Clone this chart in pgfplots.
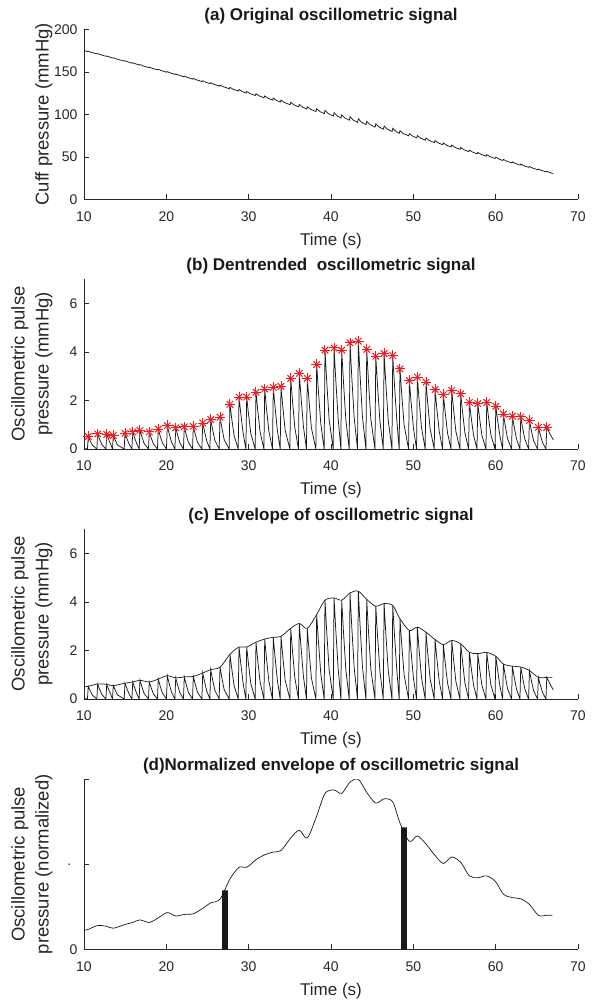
\documentclass[border=0pt]{standalone}
\usepackage{fontspec}
\setmainfont{Liberation Sans}
\usepackage{pgfplots}
\usepackage{pgfplotstable}
\pgfplotsset{compat=1.18}
\definecolor{axgray}{RGB}{38,38,38}
\definecolor{mred}{RGB}{240,25,30}

% peak times (s), peak height (mmHg), normalised peak
\pgfplotstableread{
t p n
10.52 0.52 0.117
11.66 0.62 0.140
12.76 0.60 0.135
13.56 0.55 0.124
14.98 0.65 0.146
15.92 0.70 0.158
16.80 0.77 0.173
17.93 0.70 0.158
19.02 0.82 0.185
20.12 0.96 0.216
21.14 0.87 0.196
22.18 0.91 0.205
23.28 0.93 0.209
24.42 1.07 0.241
25.39 1.21 0.273
26.52 1.31 0.295
27.73 1.84 0.414
28.83 2.14 0.482
29.76 2.14 0.482
30.89 2.34 0.527
31.95 2.47 0.556
32.99 2.54 0.572
33.93 2.58 0.581
35.11 2.91 0.655
36.15 3.11 0.700
37.12 2.91 0.655
38.26 3.48 0.784
39.27 4.07 0.917
40.37 4.16 0.937
41.30 4.07 0.917
42.31 4.37 0.984
43.32 4.44 1.000
44.34 4.10 0.923
45.44 3.82 0.860
46.45 3.93 0.885
47.50 3.85 0.867
48.38 3.30 0.743
49.52 2.82 0.635
50.49 2.96 0.667
51.54 2.75 0.619
52.64 2.45 0.552
53.65 2.24 0.505
54.67 2.41 0.543
55.76 2.27 0.511
56.81 1.92 0.432
57.83 1.87 0.421
58.92 1.92 0.432
60.02 1.76 0.396
60.94 1.44 0.324
62.03 1.35 0.304
63.05 1.32 0.297
64.10 1.17 0.264
65.19 0.89 0.200
66.21 0.89 0.200
}\peaks

\pgfplotstableread{
t p n
10.00 0.50 0.113
10.52 0.52 0.117
11.66 0.62 0.140
12.76 0.60 0.135
13.56 0.55 0.124
14.98 0.65 0.146
15.92 0.70 0.158
16.80 0.77 0.173
17.93 0.70 0.158
19.02 0.82 0.185
20.12 0.96 0.216
21.14 0.87 0.196
22.18 0.91 0.205
23.28 0.93 0.209
24.42 1.07 0.241
25.39 1.21 0.273
26.52 1.31 0.295
27.73 1.84 0.414
28.83 2.14 0.482
29.76 2.14 0.482
30.89 2.34 0.527
31.95 2.47 0.556
32.99 2.54 0.572
33.93 2.58 0.581
35.11 2.91 0.655
36.15 3.11 0.700
37.12 2.91 0.655
38.26 3.48 0.784
39.27 4.07 0.917
40.37 4.16 0.937
41.30 4.07 0.917
42.31 4.37 0.984
43.32 4.44 1.000
44.34 4.10 0.923
45.44 3.82 0.860
46.45 3.93 0.885
47.50 3.85 0.867
48.38 3.30 0.743
49.52 2.82 0.635
50.49 2.96 0.667
51.54 2.75 0.619
52.64 2.45 0.552
53.65 2.24 0.505
54.67 2.41 0.543
55.76 2.27 0.511
56.81 1.92 0.432
57.83 1.87 0.421
58.92 1.92 0.432
60.02 1.76 0.396
60.94 1.44 0.324
62.03 1.35 0.304
63.05 1.32 0.297
64.10 1.17 0.264
65.19 0.89 0.200
66.21 0.89 0.200
66.90 0.89 0.200
}\envelope

% detrended pulse train (one pulse per line)
\pgfplotstableread[row sep=\\]{
t p\\
10.00 0.02\\
10.42 0\\ 10.52 0.52\\ 10.72 0.36\\ 11.02 0.16\\
11.56 0\\ 11.66 0.62\\ 11.86 0.43\\ 12.16 0.19\\
12.66 0\\ 12.76 0.60\\ 12.96 0.42\\ 13.26 0.18\\
13.46 0\\ 13.56 0.55\\ 13.76 0.39\\ 14.06 0.17\\
14.88 0\\ 14.98 0.65\\ 15.18 0.46\\ 15.48 0.20\\
15.82 0\\ 15.92 0.70\\ 16.12 0.49\\ 16.42 0.21\\
16.70 0\\ 16.80 0.77\\ 17.00 0.54\\ 17.30 0.23\\
17.83 0\\ 17.93 0.70\\ 18.13 0.49\\ 18.43 0.21\\
18.92 0\\ 19.02 0.82\\ 19.22 0.57\\ 19.52 0.25\\
20.02 0\\ 20.12 0.96\\ 20.32 0.67\\ 20.62 0.29\\
21.04 0\\ 21.14 0.87\\ 21.34 0.61\\ 21.64 0.26\\
22.08 0\\ 22.18 0.91\\ 22.38 0.64\\ 22.68 0.27\\
23.18 0\\ 23.28 0.93\\ 23.48 0.65\\ 23.78 0.28\\
24.32 0\\ 24.42 1.07\\ 24.62 0.75\\ 24.92 0.32\\
25.29 0\\ 25.39 1.21\\ 25.59 0.85\\ 25.89 0.36\\
26.42 0\\ 26.52 1.31\\ 26.72 0.92\\ 27.02 0.39\\
27.63 0\\ 27.73 1.84\\ 27.93 1.29\\ 28.23 0.55\\
28.73 0\\ 28.83 2.14\\ 29.03 1.50\\ 29.33 0.64\\
29.66 0\\ 29.76 2.14\\ 29.96 1.50\\ 30.26 0.64\\
30.79 0\\ 30.89 2.34\\ 31.09 1.64\\ 31.39 0.70\\
31.85 0\\ 31.95 2.47\\ 32.15 1.73\\ 32.45 0.74\\
32.89 0\\ 32.99 2.54\\ 33.19 1.78\\ 33.49 0.76\\
33.83 0\\ 33.93 2.58\\ 34.13 1.81\\ 34.43 0.77\\
35.01 0\\ 35.11 2.91\\ 35.31 2.04\\ 35.61 0.87\\
36.05 0\\ 36.15 3.11\\ 36.35 2.18\\ 36.65 0.93\\
37.02 0\\ 37.12 2.91\\ 37.32 2.04\\ 37.62 0.87\\
38.16 0\\ 38.26 3.48\\ 38.46 2.44\\ 38.76 1.04\\
39.17 0\\ 39.27 4.07\\ 39.47 2.85\\ 39.77 1.22\\
40.27 0\\ 40.37 4.16\\ 40.57 2.91\\ 40.87 1.25\\
41.20 0\\ 41.30 4.07\\ 41.50 2.85\\ 41.80 1.22\\
42.21 0\\ 42.31 4.37\\ 42.51 3.06\\ 42.81 1.31\\
43.22 0\\ 43.32 4.44\\ 43.52 3.11\\ 43.82 1.33\\
44.24 0\\ 44.34 4.10\\ 44.54 2.87\\ 44.84 1.23\\
45.34 0\\ 45.44 3.82\\ 45.64 2.67\\ 45.94 1.15\\
46.35 0\\ 46.45 3.93\\ 46.65 2.75\\ 46.95 1.18\\
47.40 0\\ 47.50 3.85\\ 47.70 2.70\\ 48.00 1.16\\
48.28 0\\ 48.38 3.30\\ 48.58 2.31\\ 48.88 0.99\\
49.42 0\\ 49.52 2.82\\ 49.72 1.97\\ 50.02 0.85\\
50.39 0\\ 50.49 2.96\\ 50.69 2.07\\ 50.99 0.89\\
51.44 0\\ 51.54 2.75\\ 51.74 1.93\\ 52.04 0.83\\
52.54 0\\ 52.64 2.45\\ 52.84 1.72\\ 53.14 0.74\\
53.55 0\\ 53.65 2.24\\ 53.85 1.57\\ 54.15 0.67\\
54.57 0\\ 54.67 2.41\\ 54.87 1.69\\ 55.17 0.72\\
55.66 0\\ 55.76 2.27\\ 55.96 1.59\\ 56.26 0.68\\
56.71 0\\ 56.81 1.92\\ 57.01 1.34\\ 57.31 0.58\\
57.73 0\\ 57.83 1.87\\ 58.03 1.31\\ 58.33 0.56\\
58.82 0\\ 58.92 1.92\\ 59.12 1.34\\ 59.42 0.58\\
59.92 0\\ 60.02 1.76\\ 60.22 1.23\\ 60.52 0.53\\
60.84 0\\ 60.94 1.44\\ 61.14 1.01\\ 61.44 0.43\\
61.93 0\\ 62.03 1.35\\ 62.23 0.95\\ 62.53 0.41\\
62.95 0\\ 63.05 1.32\\ 63.25 0.92\\ 63.55 0.40\\
64.00 0\\ 64.10 1.17\\ 64.30 0.82\\ 64.60 0.35\\
65.09 0\\ 65.19 0.89\\ 65.39 0.62\\ 65.69 0.27\\
66.11 0\\ 66.21 0.89\\ 66.60 0.62\\ 67.00 0.38\\
}\pulse

% raw cuff pressure (trough, peak, decay for each beat)
\pgfplotstableread[row sep=\\]{
t c\\
10.00 175.0\\
10.44 173.9\\ 10.52 174.2\\ 10.92 172.8\\
11.58 171.0\\ 11.66 171.4\\ 12.06 170.0\\
12.68 168.2\\ 12.76 168.6\\ 13.16 167.2\\
13.48 166.1\\ 13.56 166.5\\ 13.96 165.1\\
14.90 162.5\\ 14.98 163.0\\ 15.38 161.5\\
15.84 160.1\\ 15.92 160.6\\ 16.32 159.2\\
16.72 157.9\\ 16.80 158.5\\ 17.20 156.9\\
17.85 155.0\\ 17.93 155.5\\ 18.33 154.0\\
18.94 152.3\\ 19.02 152.9\\ 19.42 151.3\\
20.04 149.5\\ 20.12 150.2\\ 20.52 148.5\\
21.06 146.9\\ 21.14 147.5\\ 21.54 145.9\\
22.10 144.2\\ 22.18 144.9\\ 22.58 143.3\\
23.20 141.4\\ 23.28 142.2\\ 23.68 140.5\\
24.34 138.5\\ 24.42 139.4\\ 24.82 137.6\\
25.31 136.1\\ 25.39 137.1\\ 25.79 135.2\\
26.44 133.2\\ 26.52 134.3\\ 26.92 132.4\\
27.65 130.1\\ 27.73 131.7\\ 28.13 129.4\\
28.75 127.3\\ 28.83 129.2\\ 29.23 126.7\\
29.68 124.9\\ 29.76 126.9\\ 30.16 124.4\\
30.81 122.1\\ 30.89 124.2\\ 31.29 121.6\\
31.87 119.4\\ 31.95 121.6\\ 32.35 118.9\\
32.91 116.7\\ 32.99 119.1\\ 33.39 116.3\\
33.85 114.3\\ 33.93 116.7\\ 34.33 113.9\\
35.03 111.3\\ 35.11 114.0\\ 35.51 111.0\\
36.07 108.7\\ 36.15 111.6\\ 36.55 108.4\\
37.04 106.2\\ 37.12 108.9\\ 37.52 105.9\\
38.18 103.3\\ 38.26 106.6\\ 38.66 103.2\\
39.19 100.7\\ 39.27 104.6\\ 39.67 100.8\\
40.29 97.9\\ 40.37 101.9\\ 40.77 98.0\\
41.22 95.6\\ 41.30 99.4\\ 41.70 95.6\\
42.23 93.0\\ 42.31 97.2\\ 42.71 93.1\\
43.24 90.4\\ 43.32 94.7\\ 43.72 90.6\\
44.26 87.8\\ 44.34 91.7\\ 44.74 87.9\\
45.36 85.0\\ 45.44 88.7\\ 45.84 85.0\\
46.37 82.5\\ 46.45 86.2\\ 46.85 82.4\\
47.42 79.8\\ 47.50 83.5\\ 47.90 79.8\\
48.30 77.6\\ 48.38 80.7\\ 48.78 77.4\\
49.44 74.7\\ 49.52 77.3\\ 49.92 74.3\\
50.41 72.2\\ 50.49 75.0\\ 50.89 71.9\\
51.46 69.5\\ 51.54 72.1\\ 51.94 69.1\\
52.56 66.7\\ 52.64 69.0\\ 53.04 66.3\\
53.57 64.2\\ 53.65 66.2\\ 54.05 63.6\\
54.59 61.6\\ 54.67 63.8\\ 55.07 61.1\\
55.68 58.8\\ 55.76 60.9\\ 56.16 58.3\\
56.73 56.1\\ 56.81 57.8\\ 57.21 55.5\\
57.75 53.5\\ 57.83 55.2\\ 58.23 52.9\\
58.84 50.8\\ 58.92 52.5\\ 59.32 50.1\\
59.94 48.0\\ 60.02 49.5\\ 60.42 47.3\\
60.86 45.6\\ 60.94 46.9\\ 61.34 44.8\\
61.95 42.8\\ 62.03 44.0\\ 62.43 42.0\\
62.97 40.2\\ 63.05 41.4\\ 63.45 39.4\\
64.02 37.6\\ 64.10 38.5\\ 64.50 36.7\\
65.11 34.8\\ 65.19 35.5\\ 65.59 33.9\\
66.13 32.2\\ 66.21 32.9\\ 66.61 31.3\\
67.00 30.3\\
}\cuff

\pgfplotsset{
  panel/.style={
    width=494pt, height=170pt, scale only axis,
    anchor=south west,
    xmin=10, xmax=70, xtick={10,20,...,70},
    axis x line*=bottom, axis y line*=left,
    axis line style={axgray, line width=0.5pt, -},
    tick align=inside,
    tick style={axgray, line width=0.5pt},
    major tick length=5pt,
    /pgf/number format/assume math mode=true,
    tick label style={font=\fontsize{14}{14}\selectfont, text=axgray},
    xticklabel style={anchor=base, yshift=-22pt},
    yticklabel style={anchor=east, xshift=-3pt},
    xlabel={Time (s)},
    xlabel style={at={(axis description cs:0.5,0)}, anchor=base, yshift=-46pt,
      font=\fontsize{17}{17}\selectfont, text=axgray},
    ylabel style={at={(axis description cs:-0.0636,0.5)}, anchor=south,
      inner sep=0pt, align=center, font=\fontsize{18.5}{24}\selectfont, text=axgray},
    title style={at={(axis description cs:0.5,1)}, anchor=base, yshift=3pt,
      font=\bfseries\fontsize{17}{17}\selectfont, text=black!90},
  },
  trace/.style={black!90, line width=0.75pt, no marks},
}

\begin{document}
\begin{tikzpicture}
\path[use as bounding box] (0pt,0pt) rectangle (592pt,1002pt);

% (a)
\begin{axis}[panel, at={(84pt,802.7pt)},
  ymin=0, ymax=200, ytick={0,50,...,200},
  ylabel={Cuff pressure (mmHg)},
  title={(a) Original oscillometric signal}]
  \addplot[trace] table[x=t, y=c] {\cuff};
\end{axis}

% (b)
\begin{axis}[panel, at={(84pt,553pt)},
  ymin=0, ymax=7, ytick={0,2,4,6},
  ylabel={Oscillometric pulse\\pressure (mmHg)},
  title={(b) Dentrended\ \ oscillometric signal}]
  \addplot[trace] table[x=t, y=p] {\pulse};
  \addplot[only marks, mark=+, mark size=5.2pt, mred, mark options={line width=1pt}]
    table[x=t, y=p] {\peaks};
  \addplot[only marks, mark=x, mark size=4.6pt, mred, mark options={line width=1pt}]
    table[x=t, y=p] {\peaks};
\end{axis}

% (c)
\begin{axis}[panel, at={(84pt,303pt)},
  ymin=0, ymax=7, ytick={0,2,4,6},
  ylabel={Oscillometric pulse\\pressure (mmHg)},
  title={(c) Envelope of oscillometric signal}]
  \addplot[trace] table[x=t, y=p] {\pulse};
  \addplot[black!90, line width=0.7pt, smooth, no marks] table[x=t, y=p] {\envelope};
\end{axis}

% (d)
\begin{axis}[panel, at={(84pt,52.7pt)},
  ymin=0, ymax=1, ytick={0,0.5,1},
  yticklabels={0,{\makebox[10pt][l]{.}},{}},
  ylabel={Oscillometric pulse\\pressure (normalized)},
  title={(d)Normalized envelope of oscillometric signal}]
  \addplot[ybar, bar width=0.7, fill=black!90, draw=none] coordinates {(27.12,0.346) (48.87,0.717)};
  \addplot[black!90, line width=0.7pt, smooth, no marks] table[x=t, y=n] {\envelope};
\end{axis}
\end{tikzpicture}
\end{document}
